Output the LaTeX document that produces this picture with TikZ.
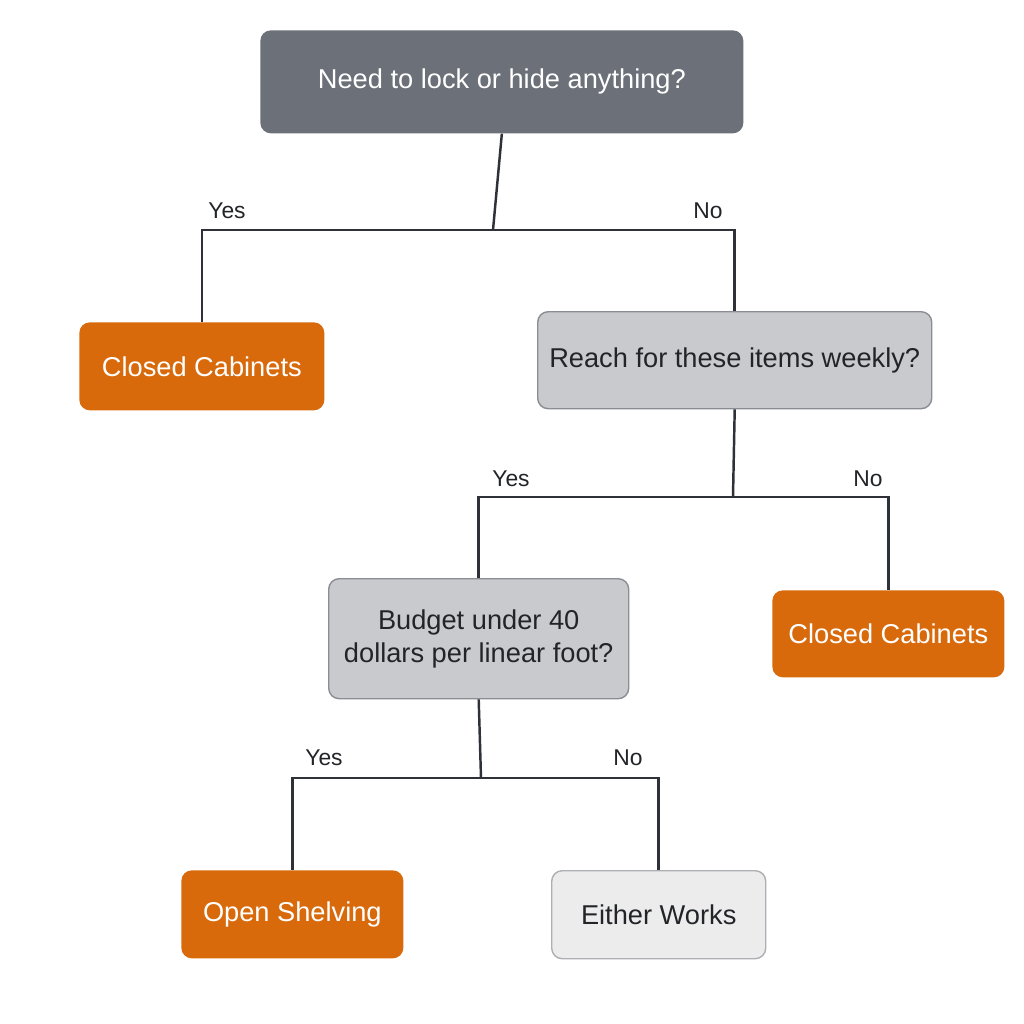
\documentclass[tikz,border=0pt]{standalone}
\usepackage{fontspec}
\setmainfont{Liberation Sans}
\begin{document}
\begin{tikzpicture}[x=0.02cm,y=-0.02cm,
 box/.style={rounded corners=6pt,anchor=north west,inner sep=0pt,align=center,font=\fontsize{15.5}{19}\selectfont},
 q/.style={box,fill=qg,draw=qb,line width=0.8pt,text=txt},
 res/.style={box,fill=org,text=white},
 lab/.style={font=\fontsize{13}{15}\selectfont,text=txt},
 ln/.style={draw=lc,line width=1.4pt}]
\definecolor{qg}{HTML}{C9CACD}\definecolor{qb}{HTML}{8A8D93}
\definecolor{org}{HTML}{D86A0C}\definecolor{txt}{HTML}{222428}
\definecolor{lc}{HTML}{2E3238}\definecolor{top}{HTML}{6B7079}
\useasboundingbox (0,0) rectangle (1024,1024);
\fill[white] (0,0) rectangle (1024,1024);
\node[box,fill=top,text=white,minimum width=483*0.02cm,minimum height=103*0.02cm] (t) at (260,30) {Need to lock or hide anything?};
\node[res,minimum width=245*0.02cm,minimum height=88*0.02cm] (c1) at (79,322) {Closed Cabinets};
\node[q,minimum width=394*0.02cm,minimum height=97*0.02cm] (r) at (537,311) {Reach for these items weekly?};
\node[q,minimum width=300*0.02cm,minimum height=120*0.02cm] (b) at (328,578) {Budget under 40\\dollars per linear foot?};
\node[res,minimum width=232*0.02cm,minimum height=87*0.02cm] (c2) at (772,590) {Closed Cabinets};
\node[res,minimum width=222*0.02cm,minimum height=88*0.02cm] (o) at (181,870) {Open Shelving};
\node[box,fill=qg!35,draw=qb!70,line width=0.8pt,text=txt,minimum width=214*0.02cm,minimum height=88*0.02cm] (e) at (551,870) {Either Works};
\coordinate (j1) at (493,230);\coordinate (j2) at (733,497);\coordinate (j3) at (481,778);
\draw[ln] (t.south) -- (j1);
\draw[ln] (c1.north) |- (j1) -| (r.north);
\draw[ln] (r.south) -- (j2);
\draw[ln] (b.north) |- (j2) -| (c2.north);
\draw[ln] (b.south) -- (j3);
\draw[ln] (o.north) |- (j3) -| (e.north);
\node[lab] (y1) at (227,211) {Yes};\node[lab] (n1) at (708,211) {No};
\node[lab] (y2) at (511,479) {Yes};\node[lab] (n2) at (868,479) {No};
\node[lab] (y3) at (324,758) {Yes};\node[lab] (n3) at (628,758) {No};
\end{tikzpicture}
\end{document}
